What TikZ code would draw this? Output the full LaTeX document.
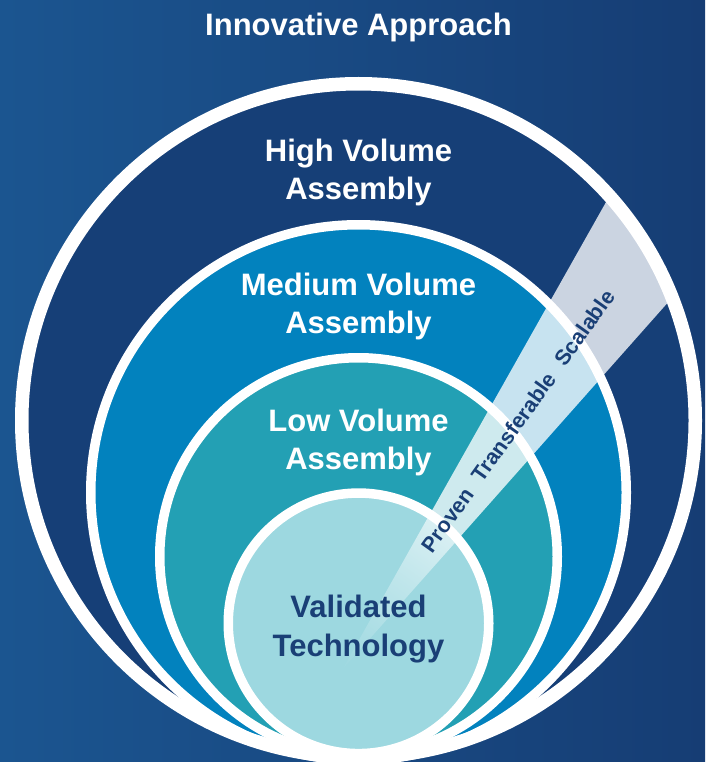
\documentclass[tikz,border=0pt]{standalone}
\usepackage{fontspec}
\setmainfont{Liberation Sans}
\definecolor{bgL}{RGB}{27,85,144}
\definecolor{bgR}{RGB}{22,61,116}
\definecolor{navy}{RGB}{22,63,119}
\definecolor{midblue}{RGB}{2,130,190}
\definecolor{tealc}{RGB}{35,160,180}
\definecolor{pale}{RGB}{157,216,224}
\definecolor{txtdark}{RGB}{26,63,118}
\definecolor{beamlight}{RGB}{233,246,248}
\begin{document}
\begin{tikzpicture}[x=1pt,y=-1pt,
  lbl/.style={text=white, font=\fontsize{31}{31}\selectfont\bfseries, anchor=base, inner sep=0pt},
  dlbl/.style={lbl, text=txtdark},
  ring/.style={draw=white, line width=#1},
  beamtxt/.style={text=txtdark, font=\fontsize{21.5}{21.5}\selectfont\bfseries, inner sep=0pt, anchor=center}]
\useasboundingbox (0,0) rectangle (705,762);
\shade[left color=bgL, right color=bgR] (0,0) rectangle (705,762);
% disc fills
\fill[navy] (358.5,420.5) circle[radius=336.75pt];
\fill[midblue] (358.5,492.5) circle[radius=267.75pt];
\fill[tealc] (358.5,556.5) circle[radius=198.75pt];
% beam (solid part)
\begin{scope}
  \clip (358.5,420.5) circle[radius=336.75pt];
  \fill[white, fill opacity=0.78, shift={(342,670)}, rotate=54.5] (0,0) -- (640,-68) -- (640,68) -- cycle;
\end{scope}
% inner disc
\fill[pale] (358.5,623.3) circle[radius=130.25pt];
% beam fading inside the inner disc
\begin{scope}
  \clip (358.5,623.3) circle[radius=130.25pt];
  \begin{scope}[transform canvas={shift={(342,670)}, rotate=54.5}]
    \shade[left color=pale, right color=beamlight, middle color=pale!55!beamlight] (0,0) -- (215,-23) -- (215,23) -- cycle;
  \end{scope}
\end{scope}
% white rings
\draw[ring=13.5pt] (358.5,420.5) circle[radius=336.75pt];
\draw[ring=9.5pt] (358.5,492.5) circle[radius=267.75pt];
\draw[ring=9.5pt] (358.5,556.5) circle[radius=198.75pt];
\draw[ring=9.5pt] (358.5,623.3) circle[radius=130.25pt];
% labels
\node[lbl] (title) at (358.5,36) {Innovative Approach};
\node[lbl] (high1) at (358.5,161) {High Volume};
\node[lbl] (high2) at (358.5,199) {Assembly};
\node[lbl] (med1) at (358.5,295) {Medium Volume};
\node[lbl] (med2) at (358.5,333) {Assembly};
\node[lbl] (low1) at (358.5,431) {Low Volume};
\node[lbl] (low2) at (358.5,469) {Assembly};
\node[dlbl] (val1) at (358.5,617) {Validated};
\node[dlbl] (val2) at (358.5,656) {Technology};
\node[beamtxt, rotate=54.5] (beam) at (518,421) {Proven\hspace{14pt}Transferable\hspace{14pt}Scalable};
\end{tikzpicture}
\end{document}
